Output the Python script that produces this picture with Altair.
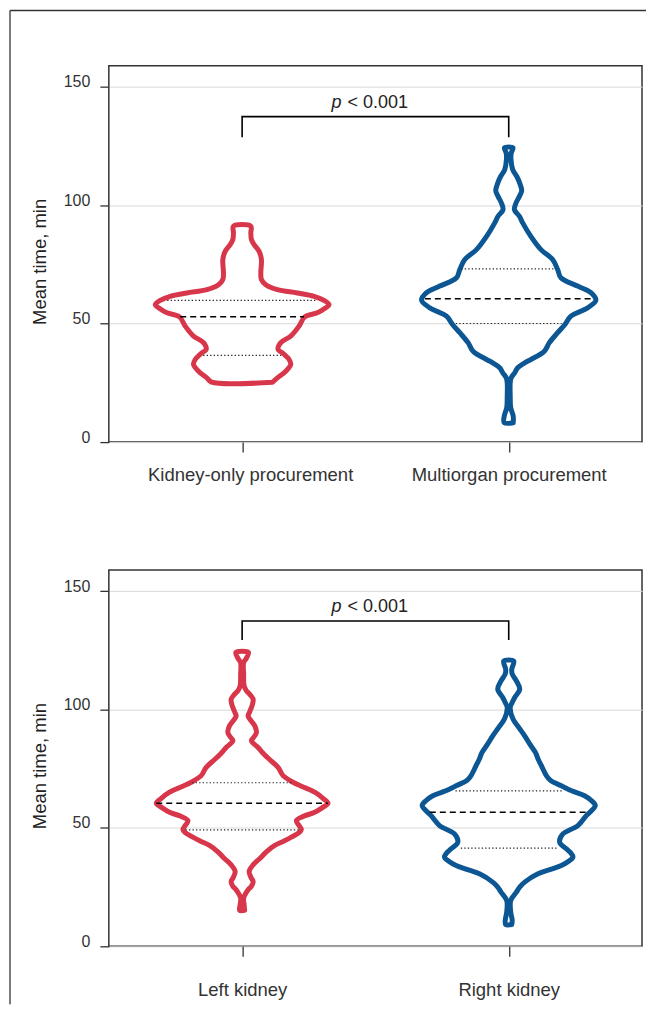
import altair as alt
import pandas as pd

# ---------------- data ----------------
PANEL1_CATS = ["Kidney-only procurement", "Multiorgan procurement"]
PANEL2_CATS = ["Left kidney", "Right kidney"]
CAT_POS = [1, 3]
Y_TICKS = [0, 50, 100, 150]
Y_TITLE = "Mean time, min"

# violin outlines: value (min) and half-width (density units) from bottom to top
p1_red_v = [25.3, 27.1, 29.9, 32.8, 34.9, 37.7, 39.1, 42.0, 44.8, 49.0, 52.9, 54.6, 56.5, 58.1,
            59.9, 61.6, 63.0, 64.4, 66.5, 68.7, 71.5, 77.1, 80.6, 83.4, 85.6, 88.4, 91.2]
p1_red_w = [30.5, 35.3, 43.7, 48.7, 47.0, 40.3, 36.0, 38.7, 48.7, 57.0, 62.7, 75.3, 83.0, 87.0,
            82.0, 72.0, 55.3, 35.3, 23.7, 19.3, 18.7, 19.3, 17.0, 12.0, 9.3, 8.7, 8.7]

p1_blue_v = [8.2, 11.0, 14.5, 19.4, 25.0, 27.2, 29.3, 31.4, 33.5, 34.9, 38.4, 42.0, 46.2, 49.7,
             53.2, 56.7, 59.9, 63.1, 65.9, 69.4, 72.9, 77.1, 81.3, 87.0, 92.6, 95.4, 98.2, 101.0,
             103.8, 106.2, 109.4, 112.3, 115.1, 119.3, 122.1, 124.3]
p1_blue_w = [4.5, 4.5, 2.0, 1.5, 1.5, 2.5, 6.0, 9.0, 16.0, 22.3, 35.7, 40.7, 49.0, 56.3,
             62.3, 79.0, 87.3, 82.3, 69.0, 52.3, 49.0, 44.0, 32.3, 22.0, 14.0, 10.7, 5.7, 7.3,
             10.7, 13.0, 11.0, 8.0, 4.0, 2.3, 2.5, 4.2]

p2_red_v = [15.2, 17.5, 20.4, 23.9, 25.5, 27.4, 29.0, 31.6, 34.4, 37.2, 39.8, 42.6, 44.5, 46.1,
            48.0, 49.3, 51.0, 53.1, 55.0, 56.6, 58.5, 60.4, 62.5, 65.1, 67.5, 69.3, 72.1, 75.6,
            79.1, 82.0, 84.0, 86.8, 88.5, 90.3, 93.1, 95.5, 97.3, 99.0, 100.9, 102.5, 104.4,
            106.5, 107.9, 110.0, 115.0, 119.8, 121.5, 124.1]
p2_red_w = [2.5, 2.0, 1.5, 6.0, 9.5, 11.0, 9.0, 7.0, 11.0, 18.0, 24.0, 32.7, 42.0, 49.3,
            57.0, 59.3, 57.0, 54.3, 62.0, 72.7, 80.0, 86.0, 81.0, 72.7, 60.0, 51.0, 41.0, 36.0,
            27.0, 20.0, 16.0, 9.3, 12.0, 14.3, 12.7, 8.5, 6.0, 7.5, 9.3, 10.5, 11.0,
            7.5, 4.3, 2.0, 1.5, 1.5, 4.0, 6.3]

p2_blue_v = [9.2, 11.0, 14.5, 19.4, 22.9, 25.0, 27.1, 30.6, 32.5, 34.1, 35.9, 37.7, 39.5, 41.2,
             44.0, 47.5, 51.0, 55.2, 59.4, 61.5, 63.6, 65.7, 67.8, 70.0, 72.1, 76.3, 79.0, 81.9,
             85.5, 88.9, 92.5, 96.0, 100.9, 103.0, 105.1, 108.6, 112.1, 115.0, 117.0, 120.5]
p2_blue_w = [3.0, 3.5, 2.0, 2.0, 7.7, 11.0, 16.0, 29.3, 42.0, 52.7, 60.0, 64.3, 62.0, 57.7,
             51.0, 54.3, 69.3, 77.7, 86.7, 83.0, 76.0, 63.0, 52.7, 42.0, 37.7, 32.7, 29.5, 26.7,
             21.0, 16.0, 10.0, 4.3, 1.5, 3.5, 6.0, 11.0, 7.7, 3.5, 3.0, 5.0]

# median and quartiles: (value, half-width)
p1_median = [(52.9, 62.0), (60.6, 84.0)]
p1_quart = [(59.9, 75.0), (36.6, 39.0), (73.2, 47.5), (50.1, 53.0)]
p2_median = [(60.4, 86.0), (56.6, 79.0)]
p2_quart = [(69.1, 50.0), (49.2, 56.7), (65.7, 53.3), (41.5, 48.0)]

P_TEXT = "< 0.001"
BRACKET_TOP = [137.5, 137.4]
BRACKET_LEG = [128.8, 129.4]
P_TEXT_Y = [141.0, 141.3]

# ---------------- styling ----------------
RED = "#d8374b"
BLUE = "#0c5694"
INK = "#333333"
FONT = "Liberation Sans"
W_UNIT = 1 / 133.5      # density units -> x-scale units
PLOT_W, PLOT_H = 534, 377
Y_MAX = 159


def outline(vs, ws, pos, idx):
    rows = []
    k = 0
    for v, w in zip(vs, ws):
        rows.append({"x": pos + w * W_UNIT, "y": v, "ord": k, "g": idx}); k += 1
    for v, w in zip(reversed(vs), reversed(ws)):
        rows.append({"x": pos - w * W_UNIT, "y": v, "ord": k, "g": idx}); k += 1
    rows.append({"x": pos + ws[0] * W_UNIT, "y": vs[0], "ord": k, "g": idx})
    return rows


def panel(cats, red, blue, med, quart, bi, label_pad, first_label_shift, frame=False):
    vdf = pd.DataFrame(outline(red[0], red[1], CAT_POS[0], 0) + outline(blue[0], blue[1], CAT_POS[1], 1))
    mdf = pd.DataFrame([{"x": CAT_POS[i] - w * W_UNIT, "x2": CAT_POS[i] + w * W_UNIT, "y": v}
                        for i, (v, w) in enumerate(med)])
    qdf = pd.DataFrame([{"x": CAT_POS[i // 2] - w * W_UNIT, "x2": CAT_POS[i // 2] + w * W_UNIT, "y": v}
                        for i, (v, w) in enumerate(quart)])
    bdf = pd.DataFrame({"x": [CAT_POS[0], CAT_POS[0], CAT_POS[1], CAT_POS[1]],
                        "y": [BRACKET_LEG[bi], BRACKET_TOP[bi], BRACKET_TOP[bi], BRACKET_LEG[bi]],
                        "ord": [0, 1, 2, 3]})
    mid = (CAT_POS[0] + CAT_POS[1]) / 2
    tdf = pd.DataFrame({"x": [mid], "y": [P_TEXT_Y[bi]]})

    label_expr = f"datum.value == {CAT_POS[0]} ? '{cats[0]}' : '{cats[1]}'"
    xs = alt.Scale(domain=[0, 4], nice=False, zero=False)
    ys = alt.Scale(domain=[0, Y_MAX], nice=False, zero=True)
    xax = alt.Axis(values=CAT_POS, labelExpr=label_expr, title=None, grid=False, domain=False,
                   tickSize=10, tickColor=INK, tickWidth=1.3, labelFontSize=18.5, labelColor=INK,
                   labelPadding=label_pad, labelFont=FONT, labelLimit=0,
                   labelOffset={"condition": {"test": f"datum.value == {CAT_POS[0]}",
                                              "value": first_label_shift}, "value": 0})
    yax = alt.Axis(values=Y_TICKS, title=Y_TITLE, grid=True, gridColor="#d9d9d9", gridWidth=1,
                   domain=False, tickSize=9, tickColor=INK, tickWidth=1.3, labelFontSize=16,
                   labelColor=INK, labelBaseline="alphabetic", labelPadding=10, labelFont=FONT,
                   titleFontSize=18.5, titleFontWeight="normal", titleColor="#222", titleFont=FONT,
                   titleX=-69, titleY=196, titleAngle=-90, titleAlign="center", titleBaseline="middle")

    base_x = alt.X("x:Q", scale=xs, axis=xax)
    base_y = alt.Y("y:Q", scale=ys, axis=yax)

    violins = alt.Chart(vdf).mark_line(strokeWidth=5, strokeJoin="round", strokeCap="round",
                                       interpolate="catmull-rom").encode(
        x=base_x, y=base_y, order="ord:Q", detail="g:N",
        color=alt.Color("g:N", scale=alt.Scale(domain=[0, 1], range=[RED, BLUE]), legend=None))
    medians = alt.Chart(mdf).mark_rule(color="#000", strokeWidth=1.5, strokeDash=[6, 4]).encode(
        x="x:Q", x2="x2:Q", y="y:Q")
    quarts = alt.Chart(qdf).mark_rule(color="#222", strokeWidth=1.2, strokeDash=[1.3, 2.2]).encode(
        x="x:Q", x2="x2:Q", y="y:Q")
    bracket = alt.Chart(bdf).mark_line(color="#000", strokeWidth=1.6, strokeJoin="miter").encode(
        x="x:Q", y="y:Q", order="ord:Q")
    ptxt = alt.Chart(tdf).mark_text(text="p", font=FONT, fontStyle="italic", fontSize=18,
                                    align="right", baseline="alphabetic", dx=-34, color="#222").encode(
        x="x:Q", y="y:Q")
    ltxt = alt.Chart(tdf).mark_text(text=P_TEXT, font=FONT, fontSize=18, align="left",
                                    baseline="alphabetic", dx=-28, color="#222").encode(
        x="x:Q", y="y:Q")
    layers = [violins, quarts, medians, bracket, ptxt, ltxt]
    if frame:
        one = pd.DataFrame({"a": [0]})
        fl = alt.Chart(one).mark_rule(color=INK, strokeWidth=1.3).encode(
            x=alt.value(-99), y=alt.value(-55.3), y2=alt.value(940))
        ft = alt.Chart(one).mark_rule(color=INK, strokeWidth=1.3).encode(
            x=alt.value(-99), x2=alt.value(538), y=alt.value(-55.3))
        layers = [fl, ft] + layers
    return alt.layer(*layers).properties(
        width=PLOT_W, height=PLOT_H,
        view=alt.ViewBackground(stroke=INK, strokeWidth=1.5, fill="white"))


top = panel(PANEL1_CATS, (p1_red_v, p1_red_w), (p1_blue_v, p1_blue_w), p1_median, p1_quart, 0, 13, 8, frame=True)
bottom = panel(PANEL2_CATS, (p2_red_v, p2_red_w), (p2_blue_v, p2_blue_w), p2_median, p2_quart, 1, 24, 0)

chart = alt.vconcat(top, bottom, spacing=128, bounds="flush").properties(
    padding={"left": 0, "top": 0, "right": 0, "bottom": 0}
).configure_view(stroke=INK, strokeWidth=1.5).configure(font=FONT)

chart.save("out.html", embed_options={"renderer": "svg", "actions": False})
